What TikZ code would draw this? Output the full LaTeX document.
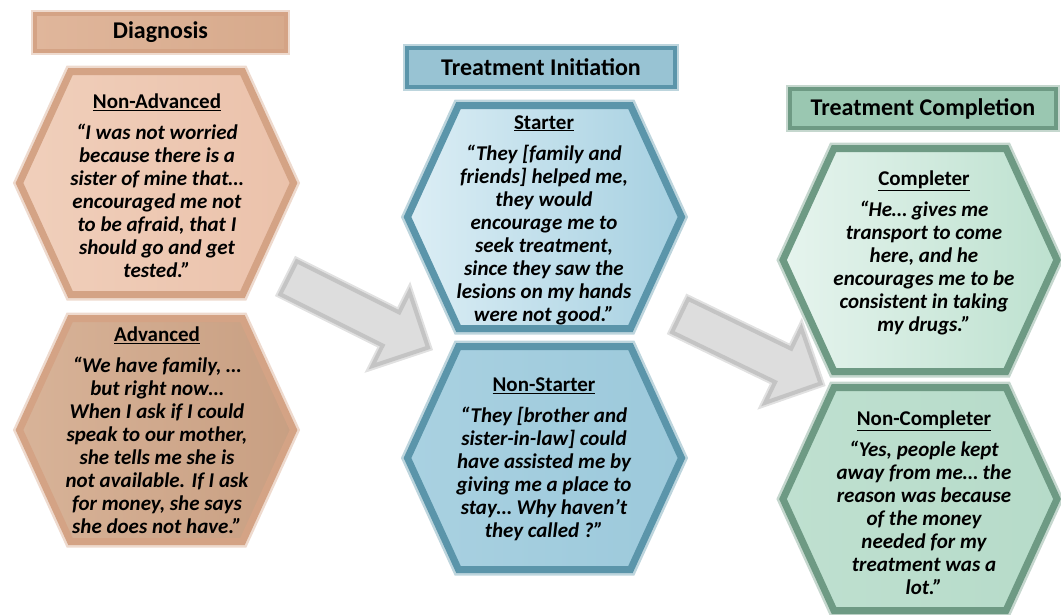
\documentclass[tikz,border=0pt]{standalone}
\usepackage{fontspec}
\setmainfont{Carlito}
\usetikzlibrary{shapes.arrows}
\definecolor{pchB}{HTML}{D4A385}
\definecolor{bluB}{HTML}{5B95AA}
\definecolor{grnB}{HTML}{6E9A84}
\definecolor{arrF}{HTML}{DDDDDD}
\definecolor{arrB}{HTML}{C4C4C4}
\definecolor{naL}{HTML}{F0CFBB}\definecolor{naM}{HTML}{F9E9E0}\definecolor{naR}{HTML}{EBC2AB}
\definecolor{adL}{HTML}{D8B398}\definecolor{adM}{HTML}{EEDACC}\definecolor{adR}{HTML}{C89F82}
\definecolor{stL}{HTML}{DCEEF5}\definecolor{stM}{HTML}{C8E3EE}\definecolor{stR}{HTML}{A6D0E1}
\definecolor{nsL}{HTML}{A9D1E1}\definecolor{nsM}{HTML}{CDE6EF}\definecolor{nsR}{HTML}{9CC9DB}
\definecolor{cpL}{HTML}{E6F4EE}\definecolor{cpM}{HTML}{D8EEE4}\definecolor{cpR}{HTML}{BDE1CF}
\definecolor{ncL}{HTML}{BFE0D0}\definecolor{ncM}{HTML}{E0F1E9}\definecolor{ncR}{HTML}{B6DBC9}
\definecolor{hdL}{HTML}{E0B69B}\definecolor{hdM}{HTML}{F7E6DC}\definecolor{hdR}{HTML}{D7AA8C}
\definecolor{hiL}{HTML}{98C3D3}\definecolor{hiM}{HTML}{D3E8F0}
\definecolor{hcL}{HTML}{9AC7B1}\definecolor{hcM}{HTML}{D6ECE1}
\tikzset{
  hexline/.style={preaction={draw=#1!40,line width=12pt,line join=miter}, draw=#1, line width=7pt, line join=miter},
  hdr/.style={preaction={draw=#1!40,line width=8pt}, draw=#1, line width=4pt, inner sep=0pt, minimum height=37pt,
     font=\fontsize{24}{28}\selectfont\bfseries},
  quote/.style={align=center, inner sep=0pt, font=\fontsize{21}{23}\selectfont\bfseries\itshape},
  bigarrow/.style={single arrow, preaction={draw=arrB!50,line width=8pt}, draw=arrB, fill=arrF, line width=4pt,
     inner xsep=0pt, inner ysep=16.5pt, single arrow head extend=23pt, minimum height=156pt}
}
\newcommand\hexcell[4]{\begin{scope}[shift={(#1,#2)}]
\path[hexline=#3,#4] (-137,0) -- (-86,-111.5) -- (86,-111.5) -- (137,0) -- (86,111.5) -- (-86,111.5) -- cycle;
\end{scope}}
\newcommand\ttl[1]{{\upshape\underline{#1}}\\[8pt]}
\begin{document}
\begin{tikzpicture}[x=1pt,y=-1pt]
\useasboundingbox (0,0) rectangle (1061,614);
% arrows
\node[bigarrow, rotate=-26.6] (arr1) at (350,308.5) {};
\node[bigarrow, rotate=-25.8] (arr2) at (742,345.5) {};
% hexagons
\hexcell{156.5}{183}{pchB}{left color=naL, middle color=naM, right color=naR}
\hexcell{156.5}{430}{pchB}{left color=adL, middle color=adM, right color=adR}
\hexcell{544.5}{217}{bluB}{left color=stL, middle color=stM, right color=stR}
\hexcell{544.5}{458}{bluB}{left color=nsL, middle color=nsM, right color=nsR}
\hexcell{920}{260}{grnB}{left color=cpL, middle color=cpM, right color=cpR}
\hexcell{920}{499}{grnB}{left color=ncL, middle color=ncM, right color=ncR}
% headers
\node[hdr=pchB, minimum width=251pt, left color=hdL, middle color=hdM, right color=hdR] (hdiag) at (160.5,32.5) {Diagnosis};
\node[hdr=bluB, minimum width=268pt, minimum height=39pt, left color=hiL, middle color=hiM, right color=hiL] (hinit) at (541,67.5) {Treatment Initiation};
\node[hdr=grnB, minimum width=266pt, minimum height=39pt, left color=hcL, middle color=hcM, right color=hcL] (hcomp) at (923,108.5) {Treatment Completion};
% texts
\node[quote] (nadv) at (157,186) {\ttl{Non-Advanced}“I was not worried\\because there is a\\sister of mine that…\\encouraged me not\\to be afraid, that I\\should go and get\\tested.”};
\node[quote] (adv) at (157,430) {\ttl{Advanced}“We have family, …\\but right now…\\When I ask if I could\\speak to our mother,\\she tells me she is\\not available. If I ask\\for money, she says\\she does not have.”};
\node[quote] (start) at (544,220) {\ttl{Starter}“They [family and\\friends] helped me,\\they would\\encourage me to\\seek treatment,\\since they saw the\\lesions on my hands\\were not good.”};
\node[quote] (nstart) at (544,459.5) {\ttl{Non-Starter}“They [brother and\\sister-in-law] could\\have assisted me by\\giving me a place to\\stay… Why haven’t\\they called ?”};
\node[quote] (comp) at (924,252.5) {\ttl{Completer}“He… gives me\\transport to come\\here, and he\\encourages me to be\\consistent in taking\\my drugs.”};
\node[quote] (ncomp) at (924,502.5) {\ttl{Non-Completer}“Yes, people kept\\away from me… the\\reason was because\\of the money\\needed for my\\treatment was a\\lot.”};
\end{tikzpicture}
\end{document}
